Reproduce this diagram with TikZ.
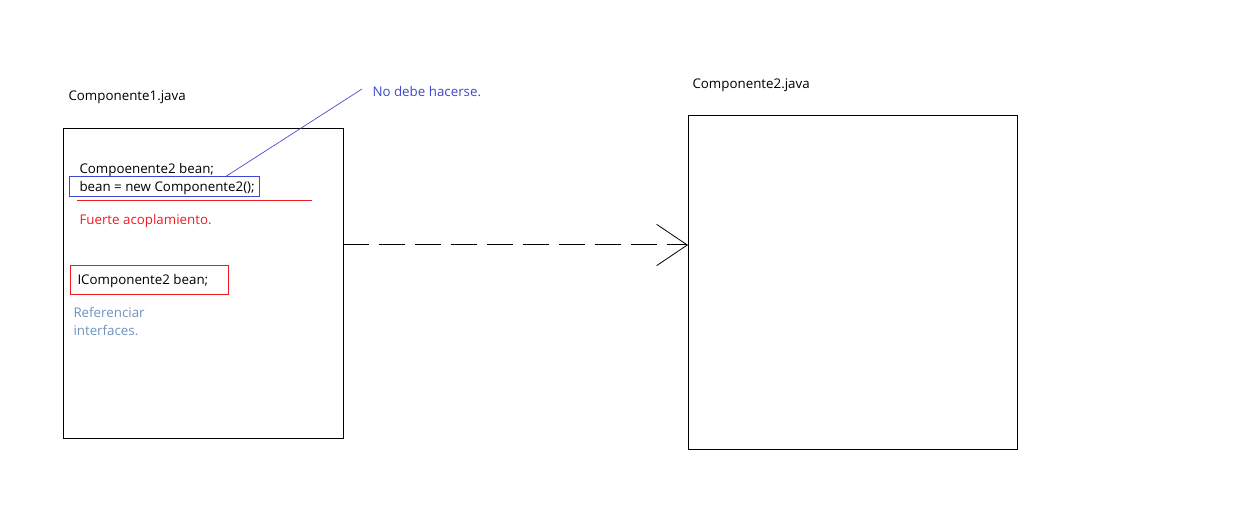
\documentclass[tikz,border=0pt]{standalone}
\usepackage{fontspec}
\setmainfont{Open Sans}
\usetikzlibrary{arrows.meta}
\definecolor{paintred}{RGB}{237,28,36}
\definecolor{paintblue}{RGB}{63,72,204}
\definecolor{paintgray}{RGB}{112,146,190}
\begin{document}
\begin{tikzpicture}[x=0.75pt,y=-0.75pt,line width=0.75pt,
  every node/.style={font=\fontsize{10}{12}\selectfont,inner sep=0pt,anchor=base west},
  redtext/.style={text=paintred},
  bluetext/.style={text=paintblue},
  graytext/.style={text=paintgray}]
\useasboundingbox (0,0) rectangle (1259,530);

% components
\coordinate (c1nw) at (63,129);
\coordinate (c1se) at (343,438);
\coordinate (c2nw) at (688,116);
\coordinate (c2se) at (1017,449);
\draw (c1nw) rectangle (c1se);
\draw (c2nw) rectangle (c2se);
\node (c1name) at (68,101) {Componente1.java};
\node (c2name) at (692,89) {Componente2.java};

% code lines
\node (decl) at (79,173.5) {Compoenente2 bean;};
\node (newline) at (79,191.5) {bean = new Componente2();};
\draw[paintblue] (69,177) rectangle (259,197);
\node[redtext] (fuerte) at (79,224.5) {Fuerte acoplamiento.};
\draw[paintred] (77,200.5) -- (312,200.5);
\node (idecl) at (77,284.5) {IComponente2 bean;};
\draw[paintred] (70,265.5) rectangle (228,295);
\node[graytext] (ref1) at (73,318) {Referenciar};
\node[graytext] (ref2) at (73,336) {interfaces.};

% note
\node[bluetext] (note) at (372,97) {No debe hacerse.};
\coordinate (noteend) at (362,89);
\coordinate (newtop) at (225,177);
\draw[paintblue,line width=0.5pt] (noteend) -- (newtop);

% dependency
\coordinate (depstart) at (343,245);
\draw[dash pattern=on 19.5pt off 7.5pt,-{Straight Barb[length=23pt,width=31pt,line width=0.6pt]}]
  (depstart) -- (depstart -| c2nw);
\end{tikzpicture}
\end{document}
